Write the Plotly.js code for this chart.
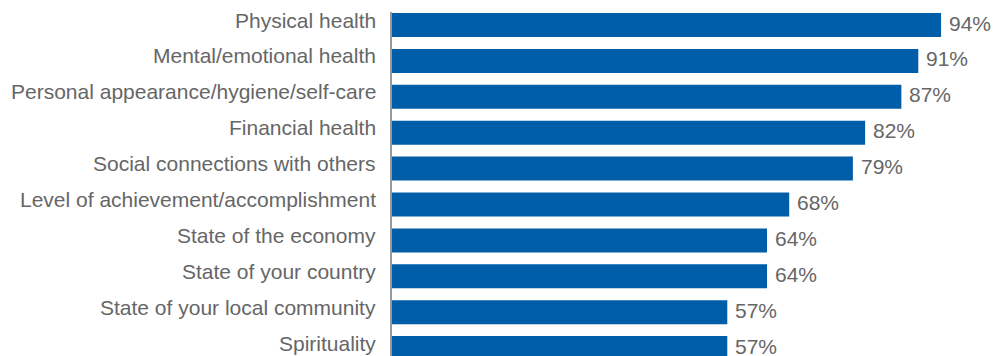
<!DOCTYPE html>
<html><head><meta charset="utf-8">
<script src="https://cdn.plot.ly/plotly-3.0.1.min.js"></script>
<style>body{margin:0;background:#fff}#c{width:1003px;height:356px}</style>
</head><body><div id="c"></div>
<script>
const categories = ["Physical health","Mental/emotional health","Personal appearance/hygiene/self-care","Financial health","Social connections with others","Level of achievement/accomplishment","State of the economy","State of your country","State of your local community","Spirituality"];
// bar lengths (percent)
const values = [94, 90.1, 87.2, 81.0, 78.9, 68.0, 64.2, 64.2, 57.4, 57.4];
// value labels as printed on the picture
const labels = ["94%","91%","87%","82%","79%","68%","64%","64%","57%","57%"];

const FONT = "Liberation Sans, Arial, Helvetica, sans-serif";
const GREY = "#666666";

const trace = {
  type: "bar", orientation: "h",
  x: values, y: categories,
  marker: {color: "#005DA8"},
  hoverinfo: "none"
};

const annotations = [];
categories.forEach((c, i) => {
  annotations.push({
    xref: "paper", yref: "y", x: 0, y: c, xanchor: "right", yanchor: "middle",
    xshift: -14, yshift: 5, showarrow: false, text: c,
    font: {family: FONT, size: 21, color: GREY}
  });
  annotations.push({
    xref: "x", yref: "y", x: values[i], y: c, xanchor: "left", yanchor: "middle",
    xshift: 6, yshift: 2, showarrow: false, text: labels[i],
    font: {family: FONT, size: 21, color: GREY}
  });
});

const layout = {
  width: 1003, height: 356,
  margin: {l: 392, r: 0, t: 12, b: 0},
  paper_bgcolor: "#fff", plot_bgcolor: "#fff",
  showlegend: false, bargap: 0.332,
  font: {family: FONT, size: 21, color: GREY},
  xaxis: {range: [0, 104.6], visible: false, showgrid: false, zeroline: false},
  yaxis: {type: "category", range: [9.22, -0.362], showgrid: false, zeroline: false,
          showline: true, linecolor: "#999999", linewidth: 2, ticks: "", showticklabels: false},
  annotations: annotations
};
Plotly.newPlot("c", [trace], layout, {staticPlot: true, displayModeBar: false});
</script></body></html>
